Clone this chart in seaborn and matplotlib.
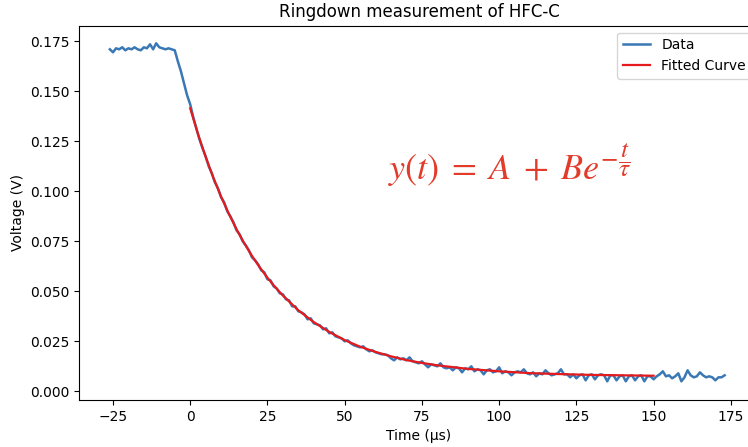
import numpy as np
import matplotlib
matplotlib.use("Agg")
import matplotlib.pyplot as plt
import seaborn as sns

# sampling times of the measurement (µs)
time_us = list(range(-26, 174))
data_mv = [
    171, 169.5, 171.5, 171, 172, 170.5, 171.5, 171, 172, 171,
    170.5, 172, 171.5, 173.5, 171, 174, 172, 171.5, 171, 171.5,
    171, 170.5, 165, 160, 154, 148, 143.5, 137, 131.5, 126,
    121.5, 117.5, 112.5, 109, 104.5, 101.5, 97, 94.5, 90, 87.5,
    84.5, 80.5, 78.5, 75, 73, 70.5, 67, 65.5, 63.5, 60.5,
    59.5, 56, 55.5, 52.5, 51.5, 49, 48.5, 46, 45.5, 42.5,
    42.5, 40, 39.5, 38.5, 36, 36.5, 34, 33.5, 33, 31,
    31.5, 29, 29.5, 27.5, 27, 26.5, 25, 25.5, 24, 23,
    22.5, 22, 22.5, 21, 20, 20.5, 19.5, 19, 18.5, 18.5,
    18, 16.5, 15.5, 17, 16, 16.5, 15.5, 17, 15, 14.5,
    14, 15, 13.5, 12, 13.5, 13, 12.5, 14, 12, 11.5,
    12, 10.5, 12, 11.5, 9.5, 11.5, 11, 12.5, 10, 11,
    10.5, 8.5, 10.5, 11, 9.5, 10, 12, 9, 10, 9.5,
    8, 9.5, 10, 9.5, 11, 9, 8.5, 9.5, 7.5, 9,
    8.5, 10.5, 9, 8, 8.5, 9, 11, 8.5, 8.5, 7,
    8.5, 6.5, 8, 8.5, 5.5, 8, 8.5, 6, 8, 8.5,
    8, 5, 8, 8, 5.5, 7.5, 8, 5, 7.5, 8,
    5.5, 7.5, 8, 5, 7.5, 7.5, 6, 7.5, 8.5, 10,
    7.5, 8, 6.5, 7.5, 9, 5, 7, 10.5, 8, 7,
    7.5, 9.5, 8, 7, 7.5, 7, 5.5, 7, 7, 8,
]
# fitted curve
fit_time_us = [0, 2.5, 5, 7.5, 10, 12.5, 15, 17.5, 20, 22.5, 25, 27.5, 30,
               35, 40, 45, 50, 55, 60, 65, 70, 75, 80, 90, 100, 110, 120,
               130, 140, 150]
fit_mv = [141.5, 128.7, 117.2, 106.8, 97.3, 88.8, 81.0, 74.0, 67.7, 62.0,
          56.8, 52.1, 47.9, 40.5, 34.6, 29.7, 25.6, 22.3, 19.7, 17.5, 15.6,
          14.2, 13.0, 11.2, 10.0, 9.1, 8.6, 8.2, 8.0, 7.8]

data_v = np.array(data_mv) / 1000.0
fit_v = np.array(fit_mv) / 1000.0

plt.rcParams['font.family'] = ['DejaVu Sans']
plt.rcParams['mathtext.fontset'] = 'stix'

fig = plt.figure(figsize=(7.48, 4.47), dpi=100)
ax = fig.add_axes([0.106, 0.1051, 1.0142 - 0.106, 0.9425 - 0.1051])

sns.lineplot(x=time_us, y=data_v, color='#3a78b5', label='Data', ax=ax,
             estimator=None, linewidth=1.8)
sns.lineplot(x=fit_time_us, y=fit_v, color='#e41a1c', label='Fitted Curve',
             ax=ax, estimator=None, linewidth=1.6)

ax.set_xlim(-35.9, 184)
ax.set_ylim(-0.00435, 0.1828)
ax.set_xticks([-25, 0, 25, 50, 75, 100, 125, 150, 175])
ax.set_yticks([0.0, 0.025, 0.05, 0.075, 0.1, 0.125, 0.15, 0.175])
ax.set_yticklabels([f"{v:.3f}" for v in [0.0, 0.025, 0.05, 0.075, 0.1, 0.125, 0.15, 0.175]])
ax.tick_params(labelsize=10)
ax.set_xlabel('Time (µs)', fontsize=10)
ax.set_ylabel('Voltage (V)', fontsize=10)
ax.set_title('Ringdown measurement of HFC-C', fontsize=12)
ax.legend(loc='upper right', fontsize=10)

fig.text(0.519, 0.597, r'$y(t)\;=\;A\;+\;Be^{-\dfrac{t}{\tau}}$', color='#e33b2a',
         fontsize=26, ha='left', va='baseline')

fig.savefig('out.png', dpi=100)
